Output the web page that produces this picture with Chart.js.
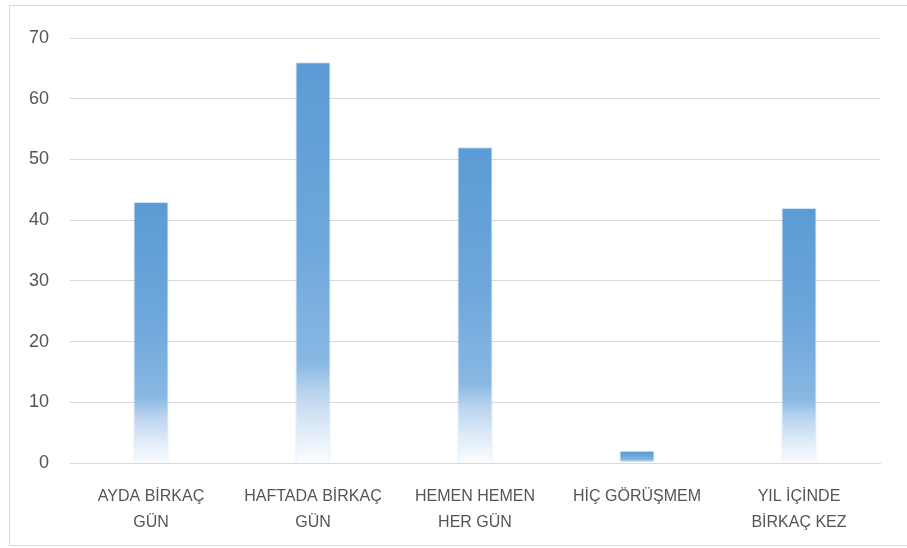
<!DOCTYPE html>
<html>
<head>
<meta charset="utf-8">
<script src="https://cdn.jsdelivr.net/npm/chart.js@4/dist/chart.umd.min.js"></script>
<style>
  html, body { margin: 0; padding: 0; background: #ffffff; }
  #wrap { position: absolute; left: 0; top: 0; width: 907px; height: 548px; }
  #frame { position: absolute; left: 9px; top: 5px; width: 910px; height: 541px; border: 1px solid #d9d9d9; box-sizing: border-box; pointer-events: none; }
</style>
</head>
<body>
<div id="wrap">
  <canvas id="c" width="907" height="548"></canvas>
  <div id="frame"></div>
</div>
<script>
const categories = [
  ['AYDA BİRKAÇ', 'GÜN'],
  ['HAFTADA BİRKAÇ', 'GÜN'],
  ['HEMEN HEMEN', 'HER GÜN'],
  'HİÇ GÖRÜŞMEM',
  ['YIL İÇİNDE', 'BİRKAÇ KEZ']
];
const values = [43, 66, 52, 2, 42];
const yTicks = [0, 10, 20, 30, 40, 50, 60, 70];

function barGradient(ctx) {
  const chart = ctx.chart;
  const area = chart.chartArea;
  if (!area || ctx.parsed === undefined) return '#5B9BD5';
  const ys = chart.scales.y;
  const top = ys.getPixelForValue(ctx.parsed.y);
  const base = ys.getPixelForValue(0);
  if (!isFinite(top) || !isFinite(base) || base - top < 1) return '#5B9BD5';
  const g = chart.ctx.createLinearGradient(0, top, 0, base);
  g.addColorStop(0, '#5B9BD5');
  g.addColorStop(0.45, '#6EA7DB');
  g.addColorStop(0.75, '#88B8E3');
  g.addColorStop(0.82, '#B8D3EF');
  g.addColorStop(0.91, '#DDEAF7');
  g.addColorStop(1, '#FBFDFF');
  return g;
}

new Chart(document.getElementById('c'), {
  type: 'bar',
  data: {
    labels: categories,
    datasets: [{
      data: values,
      backgroundColor: barGradient,
      borderColor: 'rgba(180,210,240,0.6)',
      borderWidth: 1,
      categoryPercentage: 1.0,
      barPercentage: 0.216
    }]
  },
  options: {
    responsive: false,
    animation: false,
    devicePixelRatio: 1,
    layout: { padding: { left: 0, top: 38, right: 27, bottom: 0 } },
    plugins: {
      legend: { display: false },
      tooltip: { enabled: false }
    },
    scales: {
      x: {
        grid: { display: false },
        border: { display: true, color: '#d9d9d9', width: 1 },
        ticks: {
          color: '#555555',
          font: { family: "'Liberation Sans', Arial, sans-serif", size: 16, lineHeight: 1.6 },
          padding: 13,
          maxRotation: 0,
          autoSkip: false
        },
        afterFit: (s) => { s.height = 85; }
      },
      y: {
        min: 0,
        max: 70,
        afterBuildTicks: (s) => { s.ticks = yTicks.map(v => ({ value: v })); },
        grid: { color: '#d9d9d9', lineWidth: 1, drawTicks: false },
        border: { display: false },
        ticks: {
          color: '#555555',
          font: { family: "'Liberation Sans', Arial, sans-serif", size: 18 },
          padding: 21
        },
        afterFit: (s) => { s.width = 70; }
      }
    }
  }
});
</script>
</body>
</html>
